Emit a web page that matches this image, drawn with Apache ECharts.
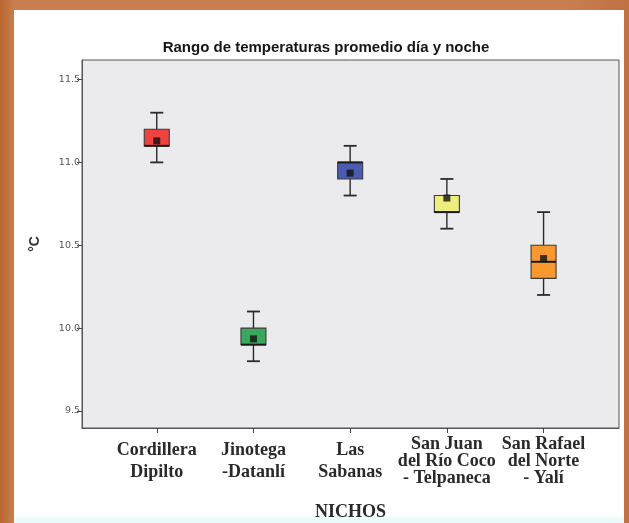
<!DOCTYPE html>
<html>
<head>
<meta charset="utf-8">
<script src="https://cdn.jsdelivr.net/npm/echarts@6/dist/echarts.min.js"></script>
<style>
  html, body { margin: 0; padding: 0; width: 629px; height: 523px; overflow: hidden; }
  #bg { position: absolute; left: 0; top: 0; width: 629px; height: 523px;
        background: linear-gradient(90deg, #b9662f 0px, #c77f4f 14px, #c87f50 90%, #bf7141 100%); }
  #panel { position: absolute; left: 14px; top: 10px; width: 610px; height: 513px;
           background: linear-gradient(180deg, #ffffff 0px, #ffffff 505px, #eafafa 509px, #eafafa 513px); }
  #chart { position: absolute; left: 0; top: 0; width: 629px; height: 523px; }
</style>
</head>
<body>
<div id="bg"></div>
<div id="panel"></div>
<div id="chart"></div>
<script>
// ---- Data ----
const categories = ['Cordillera\nDipilto', 'Jinotega\n-Datanlí', 'Las\nSabanas', 'San Juan\ndel Río Coco\n- Telpaneca', 'San Rafael\ndel Norte\n- Yalí'];
const whiskerLow  = [11.0, 9.8, 10.8, 10.6, 10.2];
const q1          = [11.1, 9.9, 10.9, 10.7, 10.3];
const median      = [11.1, 9.9, 11.0, 10.7, 10.4];
const q3          = [11.2, 10.0, 11.0, 10.8, 10.5];
const whiskerHigh = [11.3, 10.1, 11.1, 10.9, 10.7];
const means       = [11.13, 9.935, 10.935, 10.785, 10.42];
const boxColors   = ['#f0423f', '#3aa85c', '#4a5cb2', '#eeee7c', '#f7992e'];
const yTicks      = [9.5, 10.0, 10.5, 11.0, 11.5];
const xPositions  = [1, 2, 3, 4, 5];

const boxData = xPositions.map((x, i) => [x, whiskerLow[i], q1[i], median[i], q3[i], whiskerHigh[i]]);
const meanData = xPositions.map((x, i) => [x, means[i]]);

const chart = echarts.init(document.getElementById('chart'), null, { renderer: 'canvas' });

function renderBox(params, api) {
  const x = api.value(0);
  const lo = api.coord([x, api.value(1)]);
  const b1 = api.coord([x, api.value(2)]);
  const md = api.coord([x, api.value(3)]);
  const b3 = api.coord([x, api.value(4)]);
  const hi = api.coord([x, api.value(5)]);
  const hb = 12.5, hc = 6.5;
  const line = { stroke: '#2a2a2a', lineWidth: 1.4 };
  const color = boxColors[params.dataIndex];
  return {
    type: 'group',
    children: [
      { type: 'line', shape: { x1: lo[0], y1: lo[1], x2: b1[0], y2: b1[1] }, style: line },
      { type: 'line', shape: { x1: b3[0], y1: b3[1], x2: hi[0], y2: hi[1] }, style: line },
      { type: 'line', shape: { x1: lo[0] - hc, y1: lo[1], x2: lo[0] + hc, y2: lo[1] }, style: { stroke: '#2a2a2a', lineWidth: 1.8 } },
      { type: 'line', shape: { x1: hi[0] - hc, y1: hi[1], x2: hi[0] + hc, y2: hi[1] }, style: { stroke: '#2a2a2a', lineWidth: 1.8 } },
      { type: 'rect', shape: { x: b3[0] - hb, y: b3[1], width: 2 * hb, height: b1[1] - b3[1] },
        style: { fill: color, stroke: '#3a3a3a', lineWidth: 1.1 } },
      { type: 'line', shape: { x1: md[0] - hb, y1: md[1], x2: md[0] + hb, y2: md[1] }, style: { stroke: '#1a1a1a', lineWidth: 2 } }
    ]
  };
}

const labelFont = { fontFamily: 'Liberation Serif', fontWeight: 'bold', fontSize: 18, color: '#2a2a2a', align: 'center' };

const option = {
  animation: false,
  backgroundColor: 'transparent',
  title: {
    text: 'Rango de temperaturas promedio día y noche',
    left: 321, top: 35, textAlign: 'center',
    textStyle: { fontFamily: 'Liberation Sans', fontWeight: 'bold', fontSize: 15, color: '#151515' }
  },
  grid: {
    left: 82, right: 10, top: 60, bottom: 95,
    outerBoundsMode: 'none', containLabel: false,
    show: true, backgroundColor: '#ebebed', borderColor: '#555', borderWidth: 1
  },
  xAxis: {
    type: 'value', min: 0.227, max: 5.78,
    name: 'NICHOS', nameLocation: 'middle', nameGap: 75,
    nameTextStyle: { fontFamily: 'Liberation Serif', fontWeight: 'bold', fontSize: 18, color: '#2a2a2a' },
    axisLine: { show: true, lineStyle: { color: '#555' } },
    axisTick: { show: true, customValues: xPositions, length: 5, lineStyle: { color: '#444' } },
    splitLine: { show: false },
    axisLabel: {
      customValues: xPositions,
      formatter: v => {
        const lines = categories[Math.round(v) - 1].split('\n');
        const s = lines.length > 2 ? 'b' : 'a';
        return lines.map(l => '{' + s + '|' + l + '}').join('\n');
      },
      rich: {
        a: Object.assign({ lineHeight: 22 }, labelFont),
        b: Object.assign({ lineHeight: 17 }, labelFont)
      },
      margin: 33, verticalAlign: 'middle', align: 'center'
    }
  },
  yAxis: {
    type: 'value', min: 9.397, max: 11.618,
    name: '°C', nameLocation: 'middle', nameGap: 40,
    nameTextStyle: { fontFamily: 'Liberation Sans', fontWeight: 'bold', fontSize: 14, color: '#333' },
    axisLine: { show: true, lineStyle: { color: '#555' } },
    axisTick: { show: true, customValues: yTicks, length: 5, lineStyle: { color: '#444' } },
    splitLine: { show: false },
    axisLabel: {
      customValues: yTicks,
      formatter: v => v.toFixed(1),
      fontFamily: 'DejaVu Sans', fontSize: 9.5, color: '#555', margin: 2
    }
  },
  series: [
    {
      type: 'custom',
      renderItem: renderBox,
      data: boxData,
      encode: { x: 0, y: [1, 2, 3, 4, 5] },
      z: 2
    },
    {
      type: 'scatter',
      data: meanData,
      symbol: 'rect',
      symbolSize: 7,
      itemStyle: { color: '#111' },
      z: 3
    }
  ]
};
chart.setOption(option);
</script>
</body>
</html>
